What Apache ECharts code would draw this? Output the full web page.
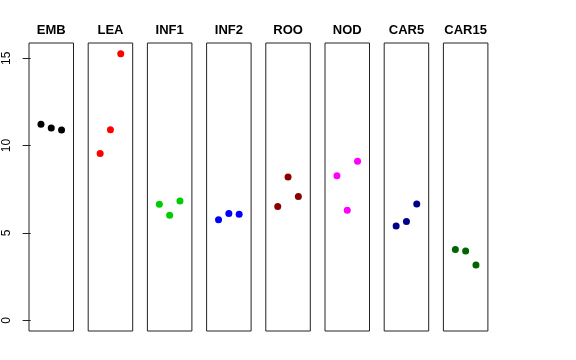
<!DOCTYPE html>
<html>
<head>
<meta charset="utf-8">
<script src="https://cdn.jsdelivr.net/npm/echarts@6/dist/echarts.min.js"></script>
<style>
html,body{margin:0;padding:0;background:#fff;}
#chart{width:576px;height:360px;}
</style>
</head>
<body>
<div id="chart"></div>
<script>
var categories = ["EMB", "LEA", "INF1", "INF2", "ROO", "NOD", "CAR5", "CAR15"];
var EMB = [11.22, 11.01, 10.89];
var LEA = [9.54, 10.91, 15.26];
var INF1 = [6.64, 6.01, 6.83];
var INF2 = [5.76, 6.12, 6.07];
var ROO = [6.52, 8.20, 7.08];
var NOD = [8.28, 6.30, 9.10];
var CAR5 = [5.40, 5.65, 6.66];
var CAR15 = [4.06, 3.97, 3.17];
var yTicks = [0, 5, 10, 15];
var colors = ["#000000", "#FF0000", "#00CD00", "#0000FF", "#8B0000", "#FF00FF", "#00008B", "#006400"];

(function(){
var seriesValues = [EMB, LEA, INF1, INF2, ROO, NOD, CAR5, CAR15];
var yMaxData = 15.26, yMinData = 0;
var ext = (yMaxData - yMinData) * 0.04;
var yMin = yMinData - ext, yMax = yMaxData + ext;

var grids = [], xAxes = [], yAxes = [], series = [], titles = [];
var left0 = 29, pitch = 59.2, w = 44.5, gTop = 43, h = 288;
for (var i = 0; i < categories.length; i++) {
  var L = left0 + i * pitch;
  grids.push({left: L, top: gTop, width: w, height: h, show: true, borderColor: '#222', borderWidth: 1, backgroundColor: 'transparent'});
  xAxes.push({gridIndex: i, type: 'value', min: -0.16, max: 4.16, show: false});
  yAxes.push({
    gridIndex: i, type: 'value', min: yMin, max: yMax,
    show: i === 0,
    splitLine: {show: false},
    axisLine: {show: false},
    axisTick: {show: i === 0, length: 8, lineStyle: {color: '#222'}, customValues: yTicks},
    axisLabel: {show: i === 0, rotate: 90, margin: 16, fontSize: 12, color: '#000', fontFamily: 'Liberation Sans, Arial, sans-serif', customValues: yTicks, formatter: function(v){return String(Math.round(v));}}
  });
  var d = seriesValues[i].map(function(v, j){ return [j + 1, v]; });
  series.push({type: 'scatter', xAxisIndex: i, yAxisIndex: i, data: d, symbol: 'circle', symbolSize: 7, itemStyle: {color: colors[i], opacity: 1}, silent: true, animation: false});
  titles.push({text: categories[i], left: L + w / 2, top: 24, padding: 0, textAlign: 'center', textStyle: {fontSize: 13, fontWeight: 'bold', color: '#000', fontFamily: 'Liberation Sans, Arial, sans-serif'}});
}

var chart = echarts.init(document.getElementById('chart'), null, {renderer: 'canvas'});
chart.setOption({
  animation: false,
  backgroundColor: '#fff',
  title: titles,
  grid: grids,
  xAxis: xAxes,
  yAxis: yAxes,
  series: series
});
})();
</script>
</body>
</html>
